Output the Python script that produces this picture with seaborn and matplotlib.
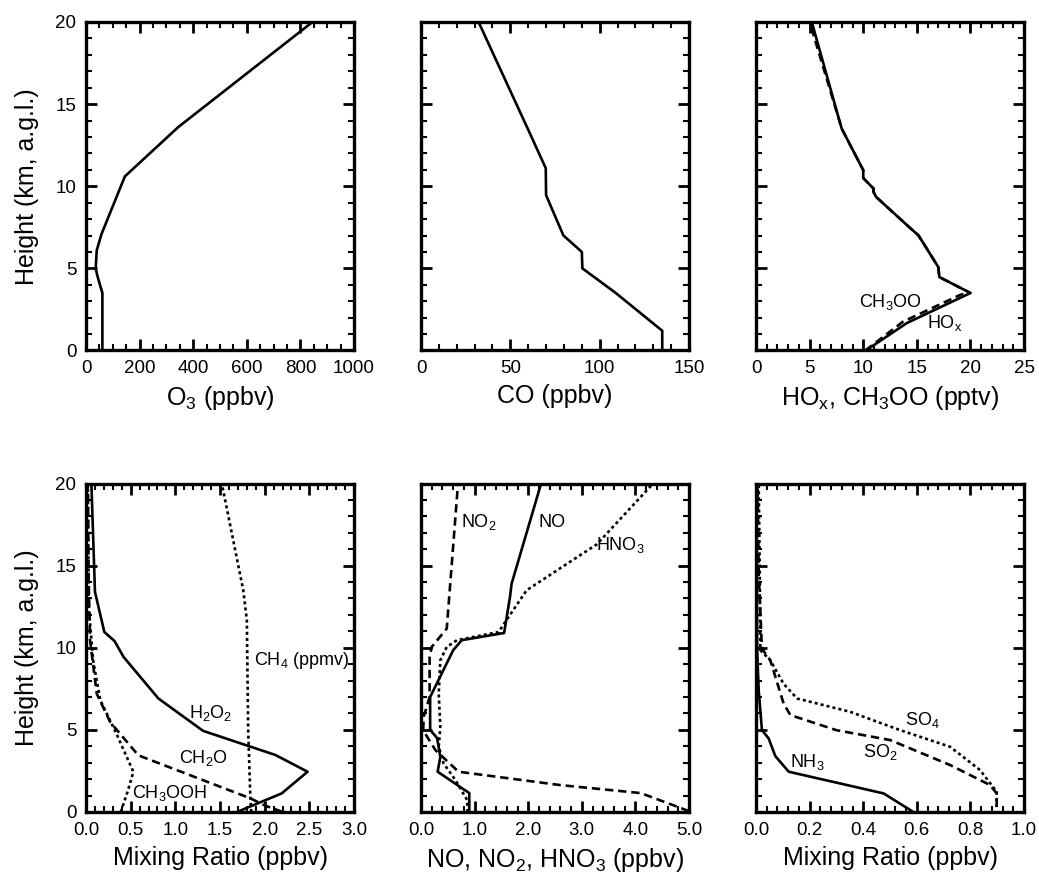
import matplotlib.pyplot as plt
import seaborn as sns
from matplotlib.ticker import MultipleLocator, FormatStrFormatter

# ---- perfiles verticales (altura en km, a.g.l.) ----
o3_height = [0, 3.5, 4.5, 5.0, 6.1, 7.1, 10.6, 13.6, 20]
o3_ppbv = [61, 61, 43, 36, 40, 58, 145, 344, 845]

co_height = [0, 1.2, 3.5, 5.0, 6.0, 7.0, 9.45, 11.1, 13.2, 20]
co_ppbv = [135, 135, 109, 90.3, 90, 79.7, 70, 69.8, 61, 32.2]

hox_height = [0, 1.67, 3.5, 4.47, 5.08, 7.0, 7.56, 9.35, 9.65, 9.86, 10.5, 10.98, 13.5, 13.8, 20]
hox_pptv = [10.25, 14.07, 20.0, 17.1, 17.0, 15.16, 14.2, 11.2, 10.96, 10.96, 10.0, 10.0, 8.0, 7.86, 5.2]
ch3oo_height = [0, 1.75, 3.4, 3.5, 4.47, 5.08, 7.0, 7.56, 9.35, 9.65, 9.86, 10.5, 10.98, 13.5, 13.8, 20]
ch3oo_pptv = [10.2, 13.7, 19.1, 20.0, 17.1, 17.0, 15.16, 14.2, 11.2, 10.96, 10.96, 10.0, 10.0, 8.0, 7.86, 5.0]

h2o2_height = [0, 1.13, 2.45, 3.47, 4.94, 6.91, 9.44, 10.4, 10.96, 13.4, 20]
h2o2_ppbv = [1.69, 2.19, 2.48, 2.12, 1.31, 0.81, 0.42, 0.32, 0.205, 0.10, 0.06]
ch2o_height = [0, 0.4, 0.83, 3.45, 5.48, 7.2, 10.45, 14, 20]
ch2o_ppbv = [2.2, 2.0, 1.84, 0.585, 0.27, 0.12, 0.045, 0.03, 0.02]
ch3ooh_height = [0, 1.32, 2.44, 4.77, 6.8, 9.2, 12.5, 20]
ch3ooh_ppbv = [0.39, 0.47, 0.53, 0.34, 0.16, 0.08, 0.03, 0.02]
ch4_height = [0, 0.8, 5.0, 11.7, 13.5, 20]
ch4_ppmv = [1.85, 1.84, 1.815, 1.80, 1.76, 1.52]

no_height = [0, 1.15, 2.45, 3.35, 4.5, 5.0, 7.0, 9.85, 10.46, 10.9, 13.1, 13.9, 20]
no_ppbv = [0.9, 0.9, 0.31, 0.36, 0.3, 0.17, 0.17, 0.60, 0.76, 1.55, 1.66, 1.69, 2.24]
no2_height = [0.05, 1.15, 1.64, 2.45, 3.76, 4.97, 5.8, 7.0, 9.44, 10.05, 11.17, 20]
no2_ppbv = [5.0, 4.1, 2.59, 0.7, 0.27, 0.04, 0.05, 0.16, 0.16, 0.20, 0.48, 0.69]
hno3_height = [0, 0.73, 1.95, 2.96, 3.97, 5.18, 7.2, 9.24, 10.05, 10.46, 10.96, 11.57, 13.5, 16.3, 20]
hno3_ppbv = [0.87, 0.86, 0.64, 0.42, 0.33, 0.36, 0.33, 0.36, 0.48, 0.67, 1.45, 1.57, 1.97, 3.28, 4.33]

nh3_height = [0, 1.13, 2.45, 3.40, 4.48, 4.98, 7.4, 9.9, 20]
nh3_ppbv = [0.587, 0.476, 0.122, 0.072, 0.047, 0.022, 0.01, 0.004, 0.002]
so2_height = [0.3, 1.13, 1.64, 2.86, 4.38, 4.98, 5.9, 6.6, 9.24, 9.95, 14.5, 20]
so2_ppbv = [0.898, 0.898, 0.873, 0.724, 0.50, 0.30, 0.128, 0.103, 0.053, 0.022, 0.01, 0.006]
so4_height = [0.3, 1.23, 2.55, 3.97, 4.98, 6.10, 6.91, 7.8, 9.24, 9.85, 14.5, 20]
so4_ppbv = [0.898, 0.898, 0.836, 0.724, 0.538, 0.351, 0.153, 0.103, 0.053, 0.016, 0.014, 0.01]

sns.set_theme(style="ticks", rc={"text.color": "black", "axes.labelcolor": "black",
                                 "xtick.color": "black", "ytick.color": "black"})
plt.rcParams["font.family"] = ["Liberation Sans", "DejaVu Sans"]
plt.rcParams["mathtext.default"] = "regular"
plt.rcParams["lines.scale_dashes"] = False

SOLID = "-"
DASHED = (0, (6, 3.5))
DOTTED = (0, (2.2, 2.2))


def perfil(ax, x, y, ls=SOLID):
    sns.lineplot(x=x, y=y, sort=False, estimator=None, color="black",
                 linewidth=1.9, linestyle=ls, ax=ax)


def estilo(ax, xmax, major, minor, fmt, xlabel):
    ax.set_xlim(0, xmax)
    ax.set_ylim(0, 20)
    ax.xaxis.set_major_locator(MultipleLocator(major))
    ax.xaxis.set_minor_locator(MultipleLocator(minor))
    ax.xaxis.set_major_formatter(FormatStrFormatter(fmt))
    ax.yaxis.set_major_locator(MultipleLocator(5))
    ax.yaxis.set_minor_locator(MultipleLocator(1))
    ax.tick_params(which="both", direction="in", top=True, right=True,
                   labelsize=13.5, pad=7, color="black", labelcolor="black")
    ax.tick_params(which="major", length=8, width=2)
    ax.tick_params(which="minor", length=4, width=1.5)
    for s in ax.spines.values():
        s.set_linewidth(2.4)
        s.set_color("black")
    ax.set_xlabel(xlabel, fontsize=18, labelpad=5, color="black")
    ax.set_ylabel("")


fig, axes = plt.subplots(2, 3, figsize=(10.39, 8.8), dpi=100, sharey=True)
fig.subplots_adjust(left=0.0828, right=0.9856, top=0.975, bottom=0.0773,
                    wspace=0.25, hspace=0.405)

ax = axes[0, 0]
perfil(ax, o3_ppbv, o3_height)
estilo(ax, 1000, 200, 50, "%d", "O$_3$ (ppbv)")

ax = axes[0, 1]
perfil(ax, co_ppbv, co_height)
estilo(ax, 150, 50, 10, "%d", "CO (ppbv)")

ax = axes[0, 2]
perfil(ax, ch3oo_pptv, ch3oo_height, DASHED)
perfil(ax, hox_pptv, hox_height)
estilo(ax, 25, 5, 1, "%d", "HO$_x$, CH$_3$OO (pptv)")
ax.text(12.5, 2.93, "CH$_3$OO", fontsize=13, ha="center", va="center")
ax.text(17.6, 1.65, "HO$_x$", fontsize=13, ha="center", va="center")

ax = axes[1, 0]
perfil(ax, h2o2_ppbv, h2o2_height)
perfil(ax, ch2o_ppbv, ch2o_height, DASHED)
perfil(ax, ch3ooh_ppbv, ch3ooh_height, DOTTED)
perfil(ax, ch4_ppmv, ch4_height, DOTTED)
estilo(ax, 3.0, 0.5, 0.1, "%.1f", "Mixing Ratio (ppbv)")
ax.text(1.88, 9.24, "CH$_4$ (ppmv)", fontsize=13, ha="left", va="center")
ax.text(1.39, 6.0, "H$_2$O$_2$", fontsize=13, ha="center", va="center")
ax.text(1.31, 3.26, "CH$_2$O", fontsize=13, ha="center", va="center")
ax.text(0.94, 1.13, "CH$_3$OOH", fontsize=13, ha="center", va="center")

ax = axes[1, 1]
perfil(ax, no_ppbv, no_height)
perfil(ax, no2_ppbv, no2_height, DASHED)
perfil(ax, hno3_ppbv, hno3_height, DOTTED)
estilo(ax, 5.0, 1.0, 0.2, "%.1f", "NO, NO$_2$, HNO$_3$ (ppbv)")
ax.text(1.07, 17.65, "NO$_2$", fontsize=13, ha="center", va="center")
ax.text(2.44, 17.65, "NO", fontsize=13, ha="center", va="center")
ax.text(3.71, 16.23, "HNO$_3$", fontsize=13, ha="center", va="center")

ax = axes[1, 2]
perfil(ax, nh3_ppbv, nh3_height)
perfil(ax, so2_ppbv, so2_height, DASHED)
perfil(ax, so4_ppbv, so4_height, DOTTED)
estilo(ax, 1.0, 0.2, 0.04, "%.1f", "Mixing Ratio (ppbv)")
ax.text(0.62, 5.59, "SO$_4$", fontsize=13, ha="center", va="center")
ax.text(0.463, 3.67, "SO$_2$", fontsize=13, ha="center", va="center")
ax.text(0.19, 3.06, "NH$_3$", fontsize=13, ha="center", va="center")

for row in axes:
    row[0].set_ylabel("Height (km, a.g.l.)", fontsize=18, labelpad=12, color="black")
    for a in row[1:]:
        a.tick_params(labelleft=False)

fig.savefig("out.png", dpi=100)
